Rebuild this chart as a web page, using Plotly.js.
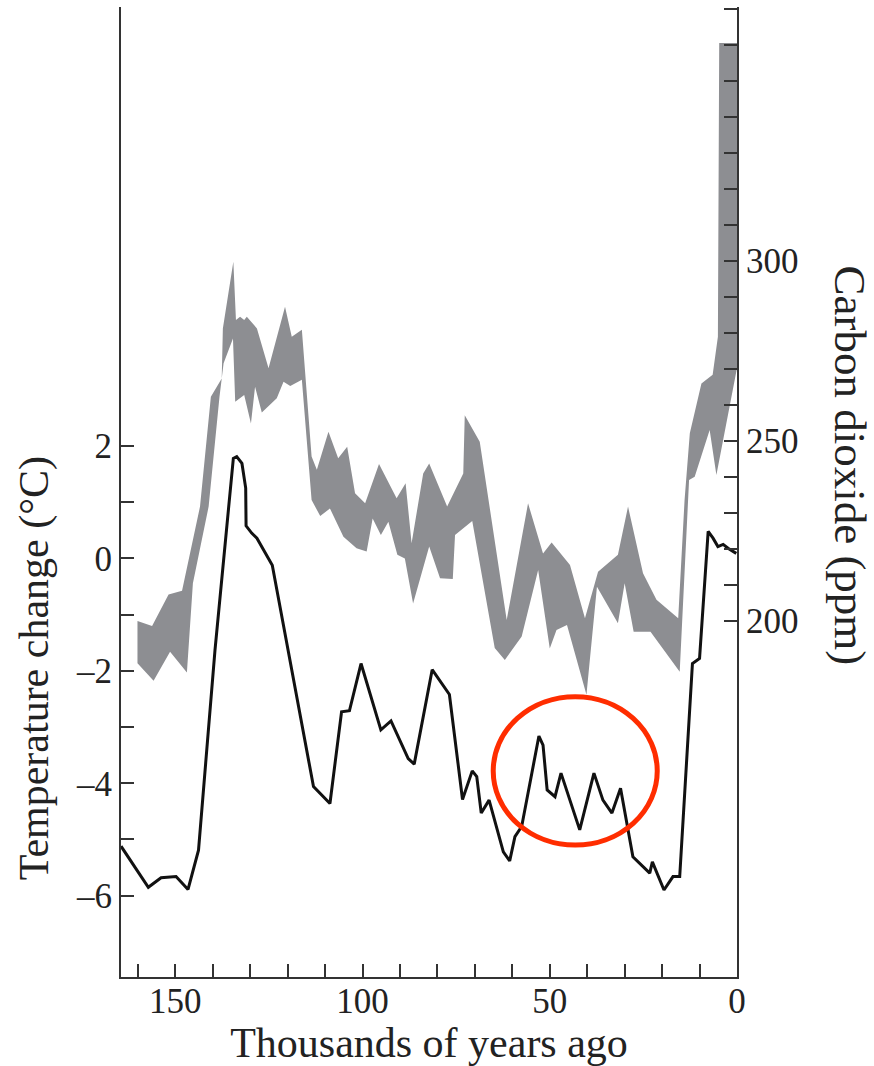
<!DOCTYPE html>
<html><head><meta charset="utf-8">
<script src="https://cdn.plot.ly/plotly-3.0.1.min.js"></script>
<style>html,body{margin:0;padding:0;background:#fff}#chart{width:874px;height:1066px}</style>
</head><body><div id="chart"></div>
<script>
// Temperature change (°C) vs thousands of years ago
const tempYears = [164.5,157.2,153.8,149.8,146.6,143.8,139.4,134.5,133.6,132.2,131.2,131.1,129.6,128.2,124.1,113.1,108.7,105.6,103.5,100.4,95.1,92.4,87.8,86.2,81.4,76.8,73.3,70.7,69.5,68.3,66.2,64.2,62.4,60.7,59.3,57.5,52.9,51.8,50.7,48.6,47.0,42.0,38.2,35.8,33.4,31.1,27.8,23.3,22.6,19.5,17.1,15.3,11.9,10.0,7.7,6.4,5.1,3.7,2.4,0.2];
const tempChange = [-5.12,-5.85,-5.68,-5.66,-5.89,-5.19,-1.63,1.78,1.81,1.69,1.25,0.58,0.45,0.36,-0.12,-4.06,-4.36,-2.73,-2.71,-1.87,-3.05,-2.89,-3.56,-3.66,-1.98,-2.42,-4.29,-3.78,-3.88,-4.53,-4.30,-4.77,-5.22,-5.38,-4.95,-4.77,-3.16,-3.32,-4.12,-4.24,-3.82,-4.83,-3.82,-4.30,-4.53,-4.09,-5.31,-5.60,-5.40,-5.90,-5.66,-5.66,-1.87,-1.78,0.48,0.36,0.21,0.25,0.18,0.09];

// Carbon dioxide (ppm) band: upper and lower edges
const co2UpperYears = [160.1,156.2,151.8,148.2,143.4,140.5,137.6,137.3,134.5,133.8,132.7,131.6,130.9,128.2,125.1,120.7,118.9,116.2,113.6,112.2,109.1,106.5,104.1,102.0,99.3,95.6,90.9,88.5,86.9,83.8,82.2,77.4,73.1,72.7,68.7,61.5,55.8,51.8,49.5,44.6,40.6,37.1,31.8,29.1,25.1,21.5,15.7,14.0,12.6,9.5,6.5,5.1,4.75,0];
const co2Upper = [199.9,198.5,207.3,208.3,231.7,262.2,267.3,281.2,299.7,283.5,284.4,283.5,284.4,281.2,270.1,287.2,278.9,280.8,245.6,241.9,252.5,245.1,248.3,235.4,232.6,243.5,234.0,238.2,221.5,240.9,243.7,231.7,240.9,257.1,249.7,200.2,232.6,218.7,221.7,215.5,200.7,213.6,218.3,231.7,213.2,205.8,200.7,233.5,252.1,265.9,268.3,278.9,360.5,360.5];
const co2LowerYears = [160.1,155.8,151.4,146.9,145.3,141.1,138.2,137.1,134.6,134.0,131.6,129.8,128.7,126.9,122.9,121.1,119.3,116.2,113.6,111.3,108.7,105.1,101.6,98.9,97.3,95.1,93.1,90.7,88.7,86.5,82.2,79.3,75.9,75.3,70.7,64.7,62.0,57.5,53.1,50.0,48.2,45.4,40.2,37.4,31.8,30.0,27.6,23.1,15.3,12.8,11.3,7.3,5.5,0];
const co2Lower = [188.2,183.3,191.4,185.6,210.4,231.7,262.2,271.5,278.4,260.8,262.7,254.8,265.0,257.8,261.8,266.4,265.2,266.9,233.5,229.1,231.2,223.3,220.1,219.2,228.4,223.8,227.5,218.3,217.3,204.8,220.6,211.8,211.6,223.8,227.7,192.4,189.1,195.6,214.1,192.3,197.4,198.8,179.4,209.4,199.3,210.4,196.9,196.9,185.8,239.1,240.0,253.0,240.5,270.2];

// Tick values and labels
const xTickVals = [160,150,140,130,120,110,100,90,80,70,60,50,40,30,20,10,0];
const xTickText = ['','150','','','','','100','','','','','50','','','','','0'];
const tempTickVals = [-6,-5,-4,-3,-2,-1,0,1,2];
const tempTickText = ['\u20136','','\u20134','','\u20132','','0','','2'];
const co2TickVals = [200,210,220,230,240,250,260,270,280,290,300,310,320,330,340,350,360,370];
const co2TickText = ['200','','','','','250','','','','','300','','','','','','',''];

// Highlighted region (red ellipse)
const highlightYears = [65.1, 21.3];
const highlightTemps = [-5.10, -2.46];

const bandX = co2UpperYears.concat(co2LowerYears.slice().reverse());
const bandY = co2Upper.concat(co2Lower.slice().reverse());

const axisColor = '#333';
const traces = [
  {x: bandX, y: bandY, yaxis: 'y2', type: 'scatter', mode: 'lines', fill: 'toself',
   fillcolor: '#8d8e92', line: {width: 0, color: '#8d8e92'}, hoverinfo: 'skip'},
  {x: tempYears, y: tempChange, type: 'scatter', mode: 'lines',
   line: {color: '#111', width: 3}, hoverinfo: 'skip'}
];

const layout = {
  width: 874, height: 1066,
  margin: {l: 121, r: 137, t: 7, b: 89, pad: 0},
  paper_bgcolor: '#fff', plot_bgcolor: '#fff',
  showlegend: false,
  font: {family: '"Liberation Serif", serif', color: '#222', size: 35},
  xaxis: {
    range: [164.5, 0], tickmode: 'array', tickvals: xTickVals, ticktext: xTickText,
    ticks: 'inside', ticklen: 13, tickwidth: 2, tickcolor: axisColor,
    showline: true, linecolor: axisColor, linewidth: 2, mirror: false,
    showgrid: false, zeroline: false, tickfont: {size: 35}, ticklabelstandoff: -8,
    title: {text: 'Thousands of years ago', font: {size: 42}, standoff: 14}
  },
  yaxis: {
    range: [-7.447, 9.81], tickmode: 'array', tickvals: tempTickVals, ticktext: tempTickText,
    ticks: 'inside', ticklen: 13, tickwidth: 2, tickcolor: axisColor,
    showline: true, linecolor: axisColor, linewidth: 2,
    showgrid: false, zeroline: false, tickfont: {size: 35}
  },
  yaxis2: {
    overlaying: 'y', side: 'right',
    range: [101.03, 370.47], tickmode: 'array', tickvals: co2TickVals, ticktext: co2TickText,
    ticks: 'inside', ticklen: 13, tickwidth: 2, tickcolor: axisColor,
    showline: true, linecolor: axisColor, linewidth: 2,
    showgrid: false, zeroline: false, tickfont: {size: 35}
  },
  shapes: [{
    type: 'circle', xref: 'x', yref: 'y',
    x0: highlightYears[0], x1: highlightYears[1], y0: highlightTemps[0], y1: highlightTemps[1],
    line: {color: '#ff2d00', width: 5}, fillcolor: 'rgba(0,0,0,0)', layer: 'above'
  }],
  annotations: [
    {text: 'Temperature change (\u00b0C)', xref: 'paper', yref: 'paper', x: -0.139, y: 0.3186,
     xanchor: 'center', yanchor: 'middle', textangle: -90, showarrow: false, font: {size: 42}},
    {text: 'Carbon dioxide (ppm)', xref: 'paper', yref: 'paper', x: 1.1828, y: 0.5278,
     xanchor: 'center', yanchor: 'middle', textangle: 90, showarrow: false, font: {size: 45}}
  ]
};

Plotly.newPlot('chart', traces, layout, {staticPlot: true, displayModeBar: false});
</script>
</body></html>
